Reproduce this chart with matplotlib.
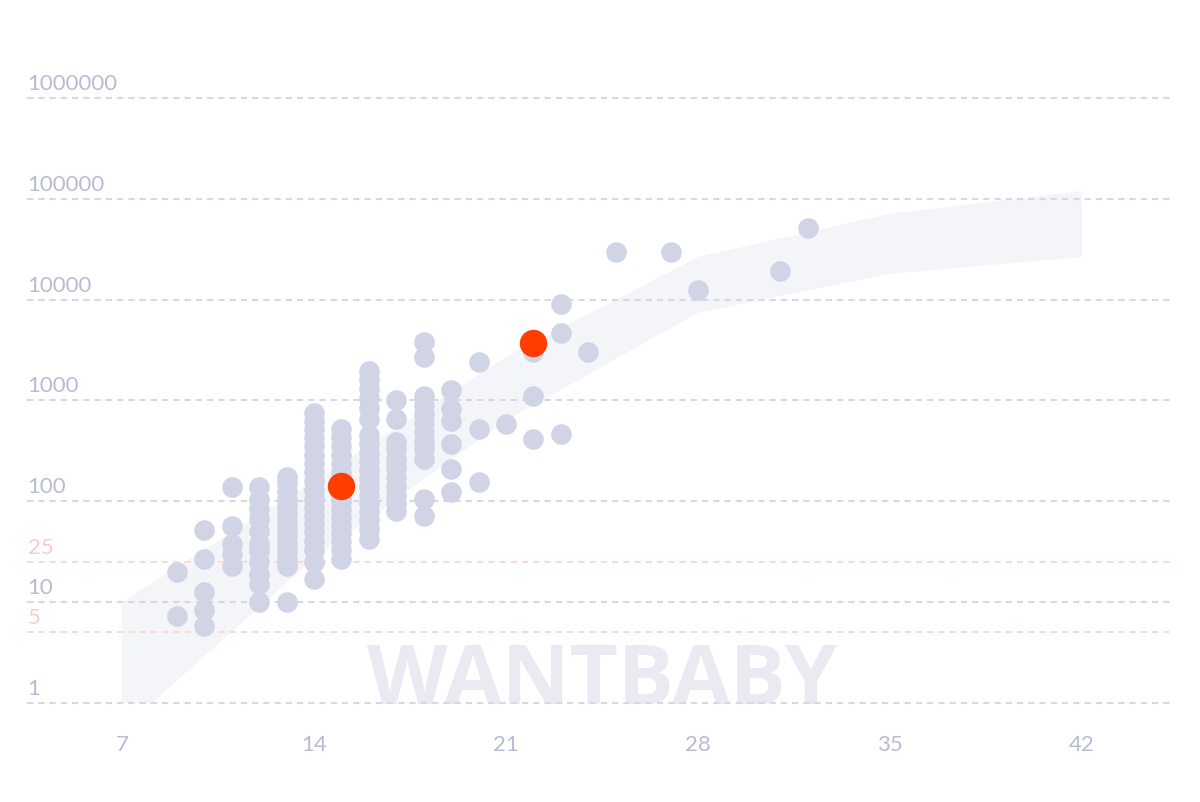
"""
hCG values by day after ovulation, log scale, with the typical range band
"""
import numpy as np
import matplotlib.pyplot as plt

# ---- data ----
x_ticks = [7, 14, 21, 28, 35, 42]
y_grid = [1, 10, 100, 1000, 10000, 100000, 1000000]
y_pink = [5, 25]

# typical range band (upper edge by week, lower edge back again)
band_up_days = [7, 14, 21, 28, 35, 42]
band_up = [10, 159, 2690, 26500, 71000, 120000]
band_low_days = [42, 35, 28, 21, 14, 8.1, 7]
band_low = [26500, 18000, 7400, 630, 27, 1, 1]

# reported values, one list per day
dots = {
    9: [20, 7.3],
    10: [52, 27, 12.6, 8.4, 5.8],
    11: [139, 57, 38, 30, 23],
    12: [139, 106, 84, 67, 51, 38, 32, 25, 19, 15, 10],
    13: [175, 150, 125, 106, 90, 75, 62, 53, 45, 38, 32, 27, 23, 10],
    14: [750, 620, 520, 420, 350, 290, 240, 195, 160, 130, 106, 88, 72,
         60, 50, 40, 33, 25, 17],
    15: [520, 430, 350, 290, 235, 190, 160, 118, 100, 84, 70, 58, 48, 40,
         33, 27],
    16: [1950, 1600, 1300, 1050, 850, 660, 450, 370, 300, 250, 205, 170,
         140, 115, 95, 78, 65, 53, 42],
    17: [1010, 660, 390, 320, 265, 215, 175, 140, 115, 95, 80],
    18: [3800, 2700, 1100, 900, 730, 600, 490, 400, 330, 265, 106, 72],
    19: [1270, 830, 620, 370, 210, 124],
    20: [2400, 520, 156],
    21: [590],
    22: [3030, 1110, 416],
    23: [9080, 4690, 466],
    24: [3030],
    25: [29800],
    27: [29800],
    28: [12500],
    31: [19300],
    32: [51500],
}
red_days = [15, 22]
red_vals = [142, 3730]

dot_col = "#d0d4e5"
label_col = "#b8bcd2"
pink_col = "#f5cdc5"

fig = plt.figure(figsize=(12, 8.03), dpi=100)
ax = fig.add_axes([27 / 1200, 79 / 803, 1145 / 1200, 685.5 / 803])
ax.set_yscale("log")
ax.set_xlim(3.54, 45.28)
ax.set_ylim(10 ** -0.2, 10 ** 6.6)
for s in ax.spines.values():
    s.set_visible(False)
ax.yaxis.set_visible(False)
ax.minorticks_off()

# band
ax.fill(band_up_days + band_low_days, band_up + band_low,
        color="#f4f5f9", lw=0, zorder=1)

# watermark
ax.text(24.5, 1, "WANTBABY", ha="center", va="baseline", fontsize=60,
        fontweight="bold", family="Open Sans", color="#e9eaf2", zorder=1.5)

# gridlines and labels
for v in y_grid:
    ax.axhline(v, color="#d6d8e2", lw=1.5, ls=(0, (3, 2.4)), zorder=2)
    ax.annotate(str(v), (0, v), xycoords=("axes fraction", "data"),
                xytext=(0.5, 6.5), textcoords="offset points",
                ha="left", va="baseline", fontsize=16, family="Lato",
                color=label_col)
for v in y_pink:
    ax.axhline(v, color="#fbdad4", lw=1.5, ls=(0, (3, 2.4)), zorder=2)
    ax.annotate(str(v), (0, v), xycoords=("axes fraction", "data"),
                xytext=(0.5, 6.5), textcoords="offset points",
                ha="left", va="baseline", fontsize=16, family="Lato",
                color=pink_col)

# dots
xs, ys = [], []
for d, vals in dots.items():
    xs += [d] * len(vals)
    ys += vals
ax.scatter(xs, ys, s=220, color=dot_col, lw=0, zorder=3)
ax.scatter(red_days, red_vals, s=390, color="#ff3d00", lw=0, zorder=4)

ax.set_xticks(x_ticks)
ax.set_xticklabels([str(t) for t in x_ticks], family="Lato", fontsize=16,
                   color=label_col)
ax.tick_params(axis="x", length=0, pad=8)

fig.savefig("out.png", dpi=100)
